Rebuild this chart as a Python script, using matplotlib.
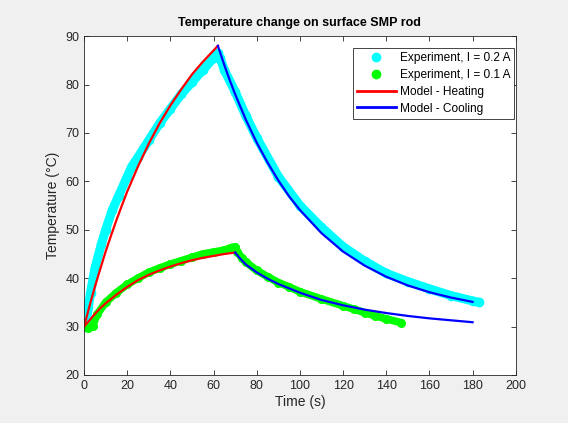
import numpy as np
import matplotlib
matplotlib.use('Agg')
import matplotlib.pyplot as plt
from matplotlib.lines import Line2D

plt.rcParams['font.family'] = ['Liberation Sans', 'DejaVu Sans']

#################################################
# Experiment, I = 0.2 A (cyan)
#################################################
t_exp1 = [0, 1, 2, 3, 5, 8, 10, 13, 16, 20, 22, 25, 30, 35, 40, 45, 50, 55, 60, 62,
          63, 65, 70, 75, 80, 90, 100, 110, 120, 130, 140, 150, 160, 170, 180, 183]
T_exp1 = [30, 31, 34, 37, 42, 47, 50, 54, 57, 61, 63, 65, 68.5, 72, 75, 78, 80.5, 83, 85.5, 86.5,
          85.5, 83, 78.5, 73.5, 69, 61, 55, 50.5, 46.5, 43.5, 41, 39.3, 37.8, 36.4, 35.3, 35]

#################################################
# Experiment, I = 0.1 A (green)
#################################################
t_exp2 = [0, 2, 4, 6, 10, 15, 20, 25, 30, 35, 40, 45, 50, 55, 60, 65, 68, 70,
          71, 73, 75, 80, 85, 90, 95, 100, 110, 120, 125, 130, 135, 140, 147]
T_exp2 = [30, 29.8, 30.2, 32.5, 35, 37, 38.7, 40, 41.2, 42.1, 42.9, 43.6, 44.3, 45, 45.4, 45.8, 46.3, 46.5,
          45.5, 44.2, 43.3, 41.6, 40.3, 39.1, 38.2, 37.2, 35.7, 34.3, 33.6, 32.9, 32.2, 31.6, 30.8]

#################################################
# Model curves
#################################################
t_heat1 = [0, 2.5, 5, 7.5, 10, 12.5, 15, 17.5, 20, 25, 30, 35, 40, 45, 50, 55, 62]
T_heat1 = [30, 34.2, 38.2, 41.9, 45.5, 48.8, 52.0, 55.0, 57.9, 63.1, 67.8, 72.0, 75.7, 79.0, 82.1, 84.7, 88.0]
t_cool1 = [62, 65, 67.5, 70, 75, 80, 85, 90, 95, 100, 110, 120, 130, 140, 150, 160, 170, 180]
T_cool1 = [88.0, 84.0, 80.9, 78.0, 72.7, 68.0, 63.9, 60.2, 56.9, 54.1, 49.3, 45.5, 42.6, 40.3, 38.5, 37.1, 36.0, 35.1]

t_heat2 = [0, 2.5, 5, 7.5, 10, 15, 20, 25, 30, 35, 40, 45, 50, 55, 60, 65, 70]
T_heat2 = [30, 31.3, 32.6, 33.8, 34.8, 36.6, 38.2, 39.6, 40.7, 41.6, 42.4, 43.1, 43.7, 44.2, 44.6, 45.0, 45.3]
t_cool2 = [70, 72, 75, 80, 85, 90, 100, 110, 120, 130, 140, 150, 160, 170, 180]
T_cool2 = [45.3, 44.2, 42.8, 41.2, 39.9, 38.8, 37.0, 35.5, 34.4, 33.5, 32.8, 32.2, 31.7, 31.3, 30.9]

cyan = '#00ffff'
green = '#00ff00'

fig = plt.figure(figsize=(5.68, 4.23), dpi=100, facecolor='#f0f0f0')
ax = fig.add_axes([0.148, 0.1135, 0.760, 0.801])

# experiments: thick band of markers
ax.plot(t_exp1, T_exp1, color=cyan, lw=6.5, solid_capstyle='round', solid_joinstyle='round')
ax.plot(t_exp1, T_exp1, 'o', color=cyan, ms=6)
ax.plot(t_exp2, T_exp2, color=green, lw=5.5, solid_capstyle='round', solid_joinstyle='round')
ax.plot(t_exp2, T_exp2, 'o', color=green, ms=5.5)

# models
ax.plot(t_heat1, T_heat1, color='#ff0000', lw=1.6)
ax.plot(t_cool1, T_cool1, color='#0000ff', lw=1.6)
ax.plot(t_heat2, T_heat2, color='#ff0000', lw=1.6)
ax.plot(t_cool2, T_cool2, color='#0000ff', lw=1.6)

ax.set_xlim(0, 200)
ax.set_ylim(20, 90)
ax.set_xticks(np.arange(0, 201, 20))
ax.set_yticks(np.arange(20, 91, 10))
ax.tick_params(which='major', direction='in', top=True, right=True, length=3.5,
               width=0.6, color='#262626', labelcolor='#262626', labelsize=9)
for s in ax.spines.values():
    s.set_color('#262626')
    s.set_linewidth(0.6)

ax.set_title('Temperature change on surface SMP rod', fontsize=9, fontweight='bold',
             color='black', pad=7)
ax.set_xlabel('Time (s)', fontsize=10, color='#262626', labelpad=2)
ax.set_ylabel('Temperature (°C)', fontsize=10, color='#262626', labelpad=4)

handles = [
    Line2D([], [], ls='none', marker='o', ms=6, color=cyan),
    Line2D([], [], ls='none', marker='o', ms=6, color=green),
    Line2D([], [], color='#ff0000', lw=2),
    Line2D([], [], color='#0000ff', lw=2),
]
labels = ['Experiment, I = 0.2 A', 'Experiment, I = 0.1 A', 'Model - Heating', 'Model - Cooling']
leg = ax.legend(handles, labels, loc='upper right', bbox_to_anchor=(0.997, 0.965),
                fontsize=8.6, frameon=True, fancybox=False,
                edgecolor='#262626', framealpha=1, borderaxespad=0, handlelength=3.3,
                handletextpad=0.3, labelspacing=0.4, borderpad=0.35)
leg.get_frame().set_linewidth(0.6)

plt.savefig('out.png', dpi=100, facecolor=fig.get_facecolor())
